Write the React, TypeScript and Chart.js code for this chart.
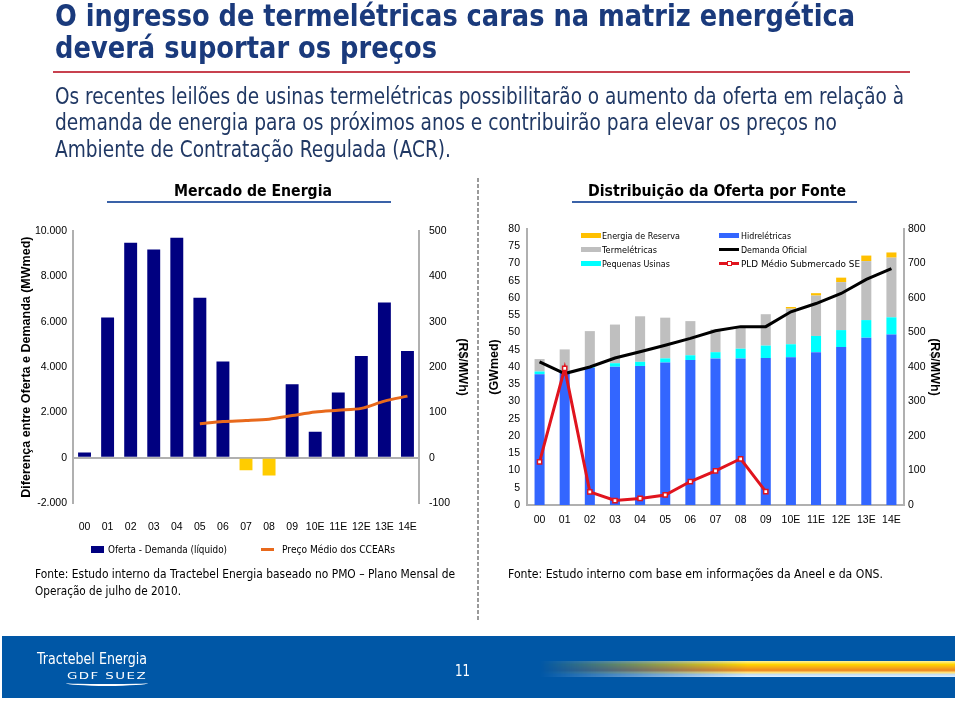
import React, { useEffect, useLayoutEffect, useRef } from "react";
import { Chart, registerables } from "chart.js";

Chart.register(...registerables);

// ---------- data ----------
const years = ["00", "01", "02", "03", "04", "05", "06", "07", "08", "09", "10E", "11E", "12E", "13E", "14E"];

// Mercado de Energia
const supplyMinusDemand = [230, 6190, 9490, 9200, 9710, 7060, 4250, -550, -780, 3250, 1150, 2880, 4490, 6860, 4710];
const ccearPrice = [null, null, null, null, null, 75, 80, 82, 85, 93, 101, 105, 109, 125, 136];
const leftTicksMW = { min: -2000, max: 10000, step: 2000 };
const leftTicksPrice = { min: -100, max: 500, step: 100 };

// Distribuição da Oferta por Fonte
const hydro = [37.9, 38.6, 39.8, 40.1, 40.3, 41.3, 42.0, 42.5, 42.5, 42.6, 42.8, 44.3, 45.8, 48.5, 49.4];
const smallPlants = [0.8, 0.3, 0.2, 1.0, 1.2, 1.2, 1.4, 1.8, 2.8, 3.6, 3.8, 4.7, 4.9, 5.1, 5.0];
const thermal = [3.6, 6.2, 10.4, 11.2, 13.2, 11.8, 9.9, 6.6, 6.4, 9.1, 10.3, 11.7, 13.9, 17.1, 17.3];
const reserve = [0, 0, 0, 0, 0, 0, 0, 0, 0, 0, 0.5, 0.7, 1.3, 1.6, 1.5];
const officialDemand = [41.5, 38.1, 40.0, 42.6, 44.4, 46.3, 48.3, 50.5, 51.7, 51.7, 56.0, 58.4, 61.3, 65.4, 68.5];
const pldSE = [125, 396, 38, 13, 19, 29, 68, 99, 134, 39, null, null, null, null, null];
const rightTicksGW = { min: 0, max: 80, step: 5 };
const rightTicksPrice = { min: 0, max: 800, step: 100 };

// ---------- styles ----------
const NAVY = "#000080";
const NEG_YELLOW = "#FFCC00";
const ORANGE = "#E8691C";
const BLUE = "#3366FF";
const CYAN = "#00FFFF";
const GRAY = "#BFBFBF";
const RESERVE = "#FFC000";
const RED = "#E0141E";
const AXIS = "#B0B0B0";
const TICK_FONT = { family: "'Liberation Sans', Arial, sans-serif", size: 10.5 };
const TITLE_FONT = { family: "'Liberation Sans', Arial, sans-serif", size: 12.5, weight: "bold" as const };
const HUMAN = "'DejaVu Sans', Verdana, sans-serif";

const fmtThousands = (v: number) => {
  const s = Math.abs(v).toString().replace(/\B(?=(\d{3})+(?!\d))/g, ".");
  return (v < 0 ? "-" : "") + s;
};

function FitText(props: {
  text: string; x: number; baseline: number; fs: number; width: number;
  weight?: number; color?: string; family?: string; spacing?: number;
}) {
  const { text, x, baseline, fs, width, weight = 400, color = "#000", family = HUMAN, spacing = 0 } = props;
  const ref = useRef<HTMLSpanElement>(null);
  useLayoutEffect(() => {
    const el = ref.current;
    if (!el) return;
    const fit = () => {
      el.style.transform = "none";
      const w = el.getBoundingClientRect().width;
      if (w > 0) el.style.transform = `scaleX(${width / w})`;
    };
    fit();
    if ((document as any).fonts) (document as any).fonts.ready.then(fit);
  }, [text, width]);
  return (
    <span
      ref={ref}
      style={{
        position: "absolute", left: x, top: baseline - 0.846 * fs, fontSize: fs, lineHeight: `${fs}px`,
        fontFamily: family, fontWeight: weight, color, whiteSpace: "nowrap", transformOrigin: "0 0",
        letterSpacing: spacing,
      }}
    >
      {text}
    </span>
  );
}

function MarketChart() {
  const ref = useRef<HTMLCanvasElement>(null);
  useEffect(() => {
    const chart = new Chart(ref.current!, {
      type: "bar",
      data: {
        labels: years,
        datasets: [
          {
            type: "line" as const,
            label: "Preço Médio dos CCEARs",
            data: ccearPrice,
            yAxisID: "y1",
            borderColor: ORANGE,
            borderWidth: 3,
            pointRadius: 0,
            tension: 0.3,
            order: 0,
          } as any,
          {
            type: "bar" as const,
            label: "Oferta - Demanda (líquido)",
            data: supplyMinusDemand,
            yAxisID: "y",
            backgroundColor: (c: any) => (c.raw < 0 ? NEG_YELLOW : NAVY),
            barPercentage: 0.56,
            categoryPercentage: 1,
            order: 1,
          },
        ],
      },
      options: {
        responsive: false,
        animation: false,
        devicePixelRatio: 1,
        layout: { padding: { top: 14, left: 0, right: 0, bottom: 0 } },
        plugins: { legend: { display: false }, tooltip: { enabled: false } },
        scales: {
          x: {
            grid: { display: false },
            border: { display: false },
            ticks: { font: TICK_FONT, color: "#000", padding: 10, maxRotation: 0, autoSkip: false },
            afterFit: (s: any) => { s.height = 32; },
          },
          y: {
            position: "left",
            min: leftTicksMW.min, max: leftTicksMW.max,
            ticks: { stepSize: leftTicksMW.step, font: TICK_FONT, color: "#000", padding: 6, callback: (v: any) => fmtThousands(Number(v)) },
            grid: {
              drawTicks: false,
              lineWidth: 2,
              color: (c: any) => (c.tick && c.tick.value === 0 ? AXIS : "rgba(0,0,0,0)"),
            },
            border: { display: true, color: AXIS, width: 2 },
            title: { display: true, text: "Diferença entre Oferta e Demanda (MWmed)", font: TITLE_FONT, color: "#000", padding: { top: 19, bottom: 0 } },
            afterFit: (s: any) => { s.width = 73; },
          },
          y1: {
            position: "right",
            min: leftTicksPrice.min, max: leftTicksPrice.max,
            ticks: { stepSize: leftTicksPrice.step, font: TICK_FONT, color: "#000", padding: 10 },
            grid: { display: false, drawTicks: false },
            border: { display: true, color: AXIS, width: 2 },
            title: { display: true, text: "(R$/MWh)", font: TITLE_FONT, color: "#000", padding: { top: 8, bottom: 0 } },
            afterFit: (s: any) => { s.width = 59; },
          },
        },
      } as any,
    });
    return () => chart.destroy();
  }, []);
  return <canvas ref={ref} width={478} height={320} style={{ position: "absolute", left: 0, top: 215, width: 478, height: 320 }} />;
}

function SupplyChart() {
  const ref = useRef<HTMLCanvasElement>(null);
  useEffect(() => {
    const barCommon = { yAxisID: "y", stack: "supply", barPercentage: 0.4, categoryPercentage: 1, order: 2 };
    const chart = new Chart(ref.current!, {
      type: "bar",
      data: {
        labels: years,
        datasets: [
          { type: "line" as const, label: "PLD Médio Submercado SE", data: pldSE, yAxisID: "y1", borderColor: RED, borderWidth: 3, pointStyle: "rect", pointRadius: 3, pointBorderWidth: 1.5, pointBackgroundColor: "#FFFFFF", pointBorderColor: RED, tension: 0, order: 0, stack: "pld" } as any,
          { type: "line" as const, label: "Demanda Oficial", data: officialDemand, yAxisID: "y", borderColor: "#000000", borderWidth: 3, pointRadius: 0, tension: 0, order: 1, stack: "demand" } as any,
          { type: "bar" as const, label: "Hidrelétricas", data: hydro, backgroundColor: BLUE, ...barCommon },
          { type: "bar" as const, label: "Pequenas Usinas", data: smallPlants, backgroundColor: CYAN, ...barCommon },
          { type: "bar" as const, label: "Termelétricas", data: thermal, backgroundColor: GRAY, ...barCommon },
          { type: "bar" as const, label: "Energia de Reserva", data: reserve, backgroundColor: RESERVE, ...barCommon },
        ],
      },
      options: {
        responsive: false,
        animation: false,
        devicePixelRatio: 1,
        layout: { padding: { top: 14, left: 0, right: 0, bottom: 0 } },
        plugins: { legend: { display: false }, tooltip: { enabled: false } },
        scales: {
          x: {
            stacked: true,
            grid: { display: false, drawTicks: false },
            border: { display: true, color: AXIS, width: 2 },
            ticks: { font: TICK_FONT, color: "#000", padding: 9, maxRotation: 0, autoSkip: false },
            afterFit: (s: any) => { s.height = 30; },
          },
          y: {
            stacked: true,
            position: "left",
            min: rightTicksGW.min, max: rightTicksGW.max,
            ticks: { stepSize: rightTicksGW.step, font: TICK_FONT, color: "#000", padding: 7 },
            grid: { display: false, drawTicks: false },
            border: { display: true, color: AXIS, width: 2 },
            title: { display: true, text: "(GWmed)", font: TITLE_FONT, color: "#000", padding: { top: 9, bottom: 0 } },
            afterFit: (s: any) => { s.width = 49; },
          },
          y1: {
            position: "right",
            min: rightTicksPrice.min, max: rightTicksPrice.max,
            ticks: { stepSize: rightTicksPrice.step, font: TICK_FONT, color: "#000", padding: 4 },
            grid: { display: false, drawTicks: false },
            border: { display: true, color: AXIS, width: 2 },
            title: { display: true, text: "(R$/MWh)", font: TITLE_FONT, color: "#000", padding: { top: 18, bottom: 0 } },
            afterFit: (s: any) => { s.width = 56; },
          },
        },
      } as any,
    });
    return () => chart.destroy();
  }, []);
  return <canvas ref={ref} width={482} height={320} style={{ position: "absolute", left: 478, top: 215, width: 482, height: 320 }} />;
}

function Swatch({ x, y, color, kind }: { x: number; y: number; color: string; kind: "box" | "line" | "marker" }) {
  if (kind === "box") return <div style={{ position: "absolute", left: x, top: y - 2.5, width: 20, height: 5, background: color }} />;
  return (
    <>
      <div style={{ position: "absolute", left: x, top: y - 1.5, width: 20, height: 3, background: color }} />
      {kind === "marker" && (
        <div style={{ position: "absolute", left: x + 7.5, top: y - 2.5, width: 5, height: 5, boxSizing: "border-box", background: "#fff", border: `1.5px solid ${color}` }} />
      )}
    </>
  );
}

export default function App() {
  const TITLE = "#1A3A7C";
  const SUB = "#203864";
  const legendRows = [235.7, 249.7, 263.7];
  return (
    <div style={{ position: "absolute", left: 0, top: 0, width: 960, height: 701, background: "#fff", overflow: "hidden" }}>
      {/* title */}
      <FitText text="O ingresso de termelétricas caras na matriz energética" x={55} baseline={26} fs={30} width={800} weight={700} color={TITLE} />
      <FitText text="deverá suportar os preços" x={55} baseline={58} fs={30} width={382} weight={700} color={TITLE} />
      <div style={{ position: "absolute", left: 53, top: 71, width: 857, height: 1.5, background: "#C8414F" }} />

      {/* subtitle */}
      <FitText text="Os recentes leilões de usinas termelétricas possibilitarão o aumento da oferta em relação à" x={55} baseline={104} fs={23} width={849} color={SUB} />
      <FitText text="demanda de energia para os próximos anos e contribuirão para elevar os preços no" x={55} baseline={130.5} fs={23} width={782} color={SUB} />
      <FitText text="Ambiente de Contratação Regulada (ACR)." x={55} baseline={157} fs={23} width={396} color={SUB} />

      {/* section headers */}
      <FitText text="Mercado de Energia" x={174} baseline={196.5} fs={16} width={158} weight={700} />
      <div style={{ position: "absolute", left: 107, top: 201, width: 284, height: 2, background: "#3A62A8" }} />
      <FitText text="Distribuição da Oferta por Fonte" x={588} baseline={196.5} fs={16} width={258} weight={700} />
      <div style={{ position: "absolute", left: 572, top: 201, width: 285, height: 2, background: "#3A62A8" }} />

      <MarketChart />
      <SupplyChart />

      {/* right chart legend */}
      <Swatch x={581} y={legendRows[0]} color={RESERVE} kind="box" />
      <FitText text="Energia de Reserva" x={602} baseline={legendRows[0] + 3.5} fs={9.5} width={78} />
      <Swatch x={581} y={legendRows[1]} color={GRAY} kind="box" />
      <FitText text="Termelétricas" x={602} baseline={legendRows[1] + 3.5} fs={9.5} width={55} />
      <Swatch x={581} y={legendRows[2]} color={CYAN} kind="box" />
      <FitText text="Pequenas Usinas" x={602} baseline={legendRows[2] + 3.5} fs={9.5} width={68} />
      <Swatch x={719} y={legendRows[0]} color={BLUE} kind="box" />
      <FitText text="Hidrelétricas" x={741} baseline={legendRows[0] + 3.5} fs={9.5} width={50} />
      <Swatch x={719} y={legendRows[1]} color="#000" kind="line" />
      <FitText text="Demanda Oficial" x={741} baseline={legendRows[1] + 3.5} fs={9.5} width={66} />
      <Swatch x={719} y={legendRows[2]} color={RED} kind="marker" />
      <FitText text="PLD Médio Submercado SE" x={741} baseline={legendRows[2] + 3.5} fs={9.5} width={119} />

      {/* left chart legend */}
      <div style={{ position: "absolute", left: 91, top: 546, width: 13, height: 7, background: NAVY }} />
      <FitText text="Oferta - Demanda (líquido)" x={108} baseline={553} fs={10} width={119} />
      <div style={{ position: "absolute", left: 261, top: 547.5, width: 13, height: 3, background: ORANGE }} />
      <FitText text="Preço Médio dos CCEARs" x={282} baseline={553} fs={10} width={113} />

      {/* sources */}
      <FitText text="Fonte: Estudo interno da Tractebel Energia baseado no PMO – Plano Mensal de" x={35} baseline={578} fs={12} width={420} />
      <FitText text="Operação de julho de 2010." x={35} baseline={595} fs={12} width={146} />
      <FitText text="Fonte: Estudo interno com base em informações da Aneel e da ONS." x={508} baseline={578} fs={12} width={375} />

      {/* dashed separator */}
      <div style={{ position: "absolute", left: 477, top: 178, width: 1.5, height: 442, background: "repeating-linear-gradient(to bottom, #9A9A9A 0 4px, transparent 4px 6px)" }} />

      {/* footer */}
      <div style={{ position: "absolute", left: 2, top: 636, width: 953, height: 62, background: "#0057A6" }} />
      <div
        style={{
          position: "absolute", left: 540, top: 661, width: 415, height: 16,
          background: "linear-gradient(to bottom, #FFF3A0 0%, #FFD400 22%, #F5A21A 45%, #EE861C 58%, #FFE27A 72%, #BFDFFF 86%, #E6F2FF 100%)",
          WebkitMaskImage: "linear-gradient(to right, transparent 0%, rgba(0,0,0,0.5) 25%, #000 50%)",
          maskImage: "linear-gradient(to right, transparent 0%, rgba(0,0,0,0.5) 25%, #000 50%)",
        } as any}
      />
      <FitText text="Tractebel Energia" x={37} baseline={665} fs={16.5} width={110} color="#fff" />
      <FitText text="GDF SUEZ" x={67} baseline={679.5} fs={9.5} width={80} color="#fff" spacing={1} />
      <div style={{ position: "absolute", left: 66, top: 680, width: 82, height: 6, borderBottom: "2.5px solid #fff", borderRadius: "0 0 50% 50%", boxSizing: "border-box" }} />
      <FitText text="11" x={455} baseline={677} fs={15} width={15} color="#fff" />
    </div>
  );
}
